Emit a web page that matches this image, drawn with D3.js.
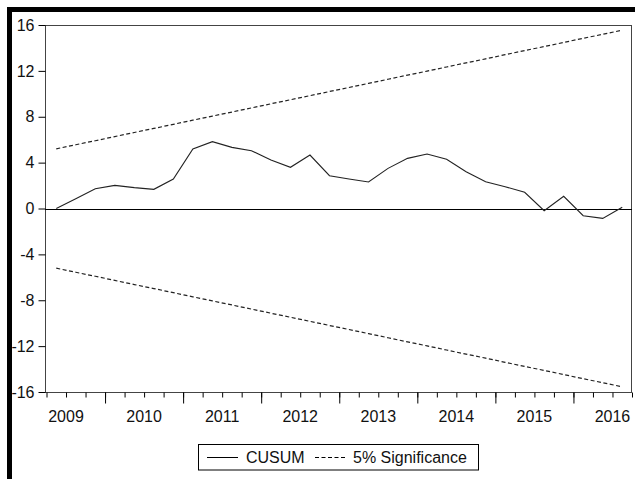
<!DOCTYPE html>
<html>
<head>
<meta charset="utf-8">
<script src="https://cdn.jsdelivr.net/npm/d3@7"></script>
<style>
  html, body { margin: 0; padding: 0; background: #fff; }
  svg { display: block; }
  text { font-family: "Liberation Sans", Arial, sans-serif; fill: #111; }
</style>
</head>
<body>
<div id="chart"></div>
<script>
// Quarterly observations, 2009Q2 – 2016Q3
const quarters = [
  "2009Q2","2009Q3","2009Q4",
  "2010Q1","2010Q2","2010Q3","2010Q4",
  "2011Q1","2011Q2","2011Q3","2011Q4",
  "2012Q1","2012Q2","2012Q3","2012Q4",
  "2013Q1","2013Q2","2013Q3","2013Q4",
  "2014Q1","2014Q2","2014Q3","2014Q4",
  "2015Q1","2015Q2","2015Q3","2015Q4",
  "2016Q1","2016Q2","2016Q3"
];

// Cumulative sum of recursive residuals
const cusum = [
  0.00, 0.85, 1.73, 2.02, 1.82, 1.67, 2.57,
  5.19, 5.83, 5.33, 5.04, 4.23, 3.59, 4.66,
  2.86, 2.57, 2.31, 3.50, 4.37, 4.75, 4.29,
  3.21, 2.34, 1.90, 1.41, -0.19, 1.06, -0.63,
  -0.86, 0.10
];

// Upper 5% significance bound (lower bound is its mirror image)
const upperBound = [
  5.20, 5.56, 5.91, 6.27, 6.63, 6.98, 7.34, 7.70, 8.06, 8.41,
  8.77, 9.13, 9.48, 9.84, 10.20, 10.55, 10.91, 11.27, 11.63, 11.98,
  12.34, 12.70, 13.05, 13.41, 13.77, 14.12, 14.48, 14.84, 15.19, 15.55
];
const lowerBound = upperBound.map(v => -v);

const yTicks = [-16, -12, -8, -4, 0, 4, 8, 12, 16];
const years = ["2009","2010","2011","2012","2013","2014","2015","2016"];

const W = 635, H = 479;
const plot = { left: 45, right: 632, top: 25, bottom: 392 };

const svg = d3.select("#chart").append("svg")
  .attr("width", W).attr("height", H);

svg.append("rect").attr("width", W).attr("height", H).attr("fill", "#fff");

// heavy outer frame
svg.append("rect")
  .attr("x", 9.5).attr("y", 9.5)
  .attr("width", 800).attr("height", 700)
  .attr("fill", "none").attr("stroke", "#000").attr("stroke-width", 5);

// index scale: each quarter occupies one unit, centred on its integer index
const x = d3.scaleLinear().domain([-0.5, quarters.length - 0.5]).range([46.5, 632]);
const y = d3.scaleLinear().domain([-16, 16]).range([plot.bottom, plot.top]);

// plot frame
svg.append("rect")
  .attr("x", plot.left + 0.5).attr("y", plot.top + 0.5)
  .attr("width", plot.right - plot.left - 1).attr("height", plot.bottom - plot.top)
  .attr("fill", "none").attr("stroke", "#444").attr("stroke-width", 1);

// zero reference line
svg.append("line")
  .attr("x1", plot.left).attr("x2", plot.right)
  .attr("y1", Math.round(y(0)) + 0.5).attr("y2", Math.round(y(0)) + 0.5)
  .attr("stroke", "#000").attr("stroke-width", 1);

// left axis (plain hyphen for negatives)
const yAxis = svg.append("g")
  .attr("transform", `translate(${plot.left + 0.5},0)`)
  .call(d3.axisLeft(y).tickValues(yTicks).tickSize(7).tickPadding(4).tickFormat(d => String(d)));
yAxis.select(".domain").remove();
yAxis.selectAll(".tick line").attr("stroke", "#000");
yAxis.selectAll(".tick text")
  .style("font-size", "16px")
  .style("font-family", "'Liberation Sans', Arial, sans-serif")
  .attr("fill", "#111");

// bottom axis: a tick at every quarter boundary, longer ones at year starts
const boundaries = d3.range(quarters.length + 1).map(k => k - 0.5);
const yearStarts = quarters
  .map((q, i) => ({ q, i }))
  .filter(d => d.q.endsWith("Q1"))
  .map(d => d.i - 0.5);

const xMinor = svg.append("g")
  .attr("transform", `translate(0,${plot.bottom + 0.5})`)
  .call(d3.axisBottom(x).tickValues(boundaries).tickSize(5).tickFormat(""));
xMinor.select(".domain").remove();
xMinor.selectAll(".tick line").attr("stroke", "#000");

const xMajor = svg.append("g")
  .attr("transform", `translate(0,${plot.bottom + 0.5})`)
  .call(d3.axisBottom(x).tickValues(yearStarts).tickSize(11).tickFormat(""));
xMajor.select(".domain").remove();
xMajor.selectAll(".tick line").attr("stroke", "#000");

// year labels centred on each calendar year's span
const firstQ1 = yearStarts[0] + 0.5;
svg.append("g").selectAll("text")
  .data(years)
  .join("text")
  .attr("x", (d, j) => x(firstQ1 - 4 + 4 * j - 0.5 + 2))
  .attr("y", 422)
  .attr("text-anchor", "middle")
  .style("font-size", "16px")
  .text(d => d);

const line = d3.line().x((d, i) => x(i)).y(d => y(d));

// significance bounds
[upperBound, lowerBound].forEach(series => {
  svg.append("path")
    .datum(series)
    .attr("d", line)
    .attr("fill", "none")
    .attr("stroke", "#222")
    .attr("stroke-width", 1.2)
    .attr("stroke-dasharray", "4,2.5");
});

// CUSUM path
svg.append("path")
  .datum(cusum)
  .attr("d", line)
  .attr("fill", "none")
  .attr("stroke", "#222")
  .attr("stroke-width", 1.1);

// legend
const lg = svg.append("g");
lg.append("rect")
  .attr("x", 198.5).attr("y", 444.5).attr("width", 280).attr("height", 25.5)
  .attr("fill", "#fff").attr("stroke", "#000").attr("stroke-width", 1);
lg.append("line")
  .attr("x1", 207).attr("x2", 238).attr("y1", 457.5).attr("y2", 457.5)
  .attr("stroke", "#000").attr("stroke-width", 1);
lg.append("text").attr("x", 246).attr("y", 463).style("font-size", "16px").text("CUSUM");
lg.append("line")
  .attr("x1", 315).attr("x2", 347).attr("y1", 457.5).attr("y2", 457.5)
  .attr("stroke", "#000").attr("stroke-width", 1).attr("stroke-dasharray", "4,2.5");
lg.append("text").attr("x", 353).attr("y", 463).style("font-size", "16px").text("5% Significance");
</script>
</body>
</html>
